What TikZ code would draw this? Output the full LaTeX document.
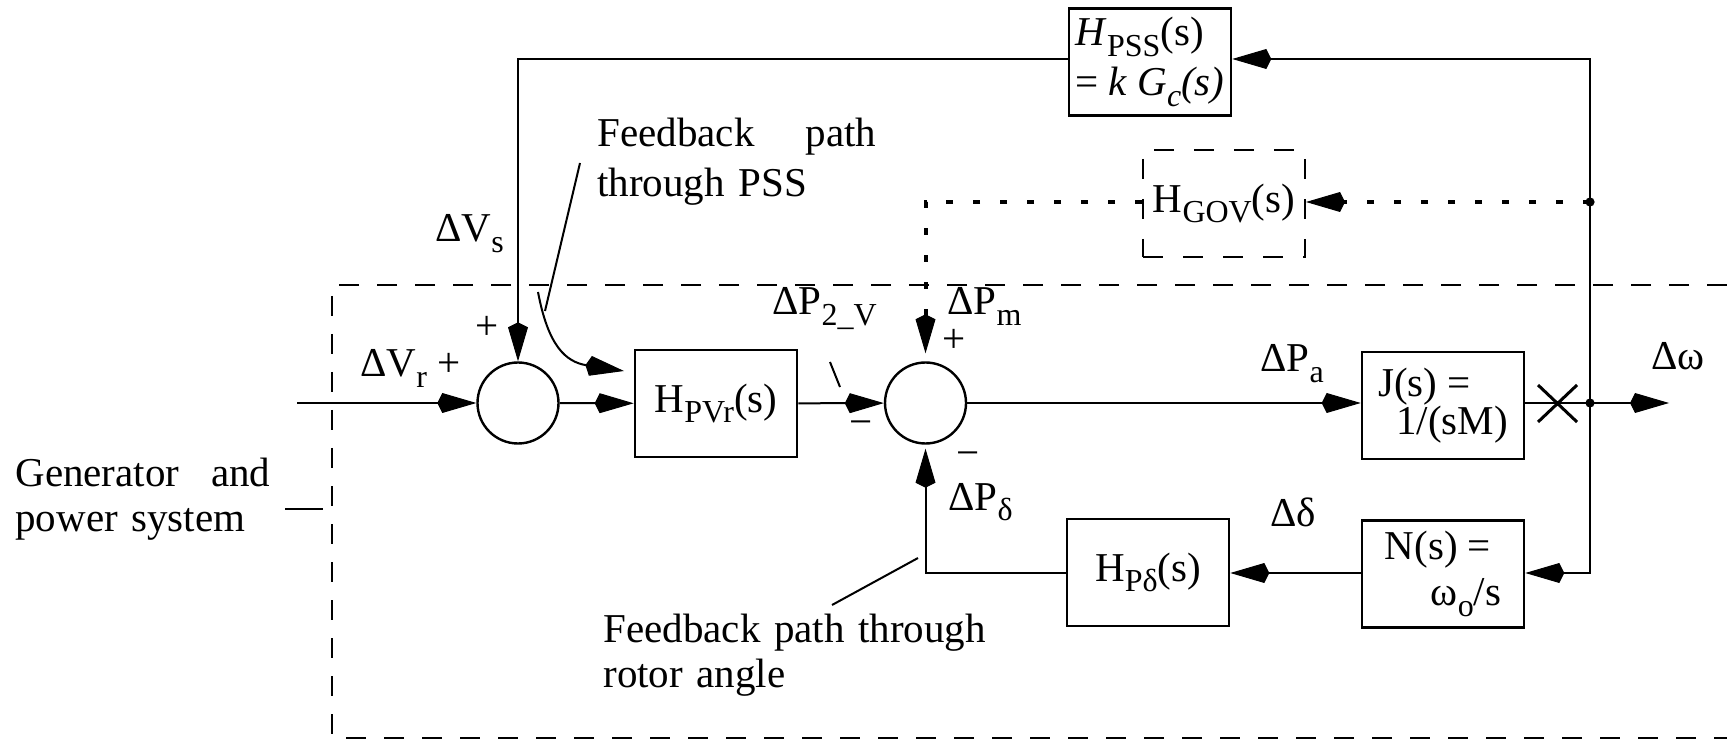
\documentclass[tikz,border=0pt]{standalone}
\usepackage{fontspec}
\setmainfont{Liberation Serif}
\newfontfamily\dfont{Liberation Serif}
\usetikzlibrary{arrows.meta}
\newcommand\sbs[1]{\raisebox{-0.25em}{\fontsize{16}{16}\selectfont #1}}
\begin{document}
\begin{tikzpicture}[x=0.5pt,y=-0.5pt,
  font=\dfont\fontsize{20.5}{22}\selectfont,
  ln/.style={line width=1pt},
  tipk/.tip={Kite[length=19.5pt,width=10pt,inset=2.5pt,line width=0.5pt]},
  arr/.style={ln,-tipk},
  blk/.style={draw,line width=1.3pt,minimum width=81pt,minimum height=53.5pt,inner sep=0pt},
  govbox/.style={blk,line width=1pt,dash pattern=on 10pt off 10pt},
  sumc/.style={draw,circle,line width=1.2pt,minimum size=40.5pt,inner sep=0pt},
  lbl/.style={inner sep=0pt,anchor=base west},
  sgn/.style={inner sep=0pt},
  dotl/.style={line width=2pt,dash pattern=on 3.5pt off 10pt},
  bigdash/.style={line width=1.2pt,dash pattern=on 10pt off 9pt},
]
\useasboundingbox (0,0) rectangle (1727,742);

% outer dashed boundary
\draw[bigdash] (1727,285) -- (332,285) -- (332,738) -- (1727,738);

% blocks
\node[blk,align=left,font=\dfont\fontsize{20.5}{25}\selectfont] (pss) at (1150,62) {\textit{H}\sbs{PSS}(s)\\= \textit{k G\sbs{c}(s)}};
\node[govbox] (gov) at (1224,203.5) {H\sbs{GOV}(s)};
\node[blk] (pvr) at (716,403.5) {H\sbs{PVr}(s)};
\node[blk,align=left,font=\dfont\fontsize{20.5}{19}\selectfont] (jb) at (1443,405.5) {J(s) =\\\hspace*{9pt}1/(sM)};
\node[blk,align=left,font=\dfont\fontsize{20.5}{23}\selectfont] (nb) at (1443,574) {N(s) =\\\hspace*{23pt}ω\sbs{o}/s};
\node[blk] (hpd) at (1148,572.5) {H\sbs{Pδ}(s)};
\node[sumc] (c1) at (518,403) {};
\node[sumc] (c2) at (925.5,403) {};

% coordinates
\coordinate (in) at (297,403);
\coordinate (out) at (1669,403);
\coordinate (tr) at (1590,59);
\coordinate (br) at (1590,573);
\coordinate (dg) at (1590,202);
\coordinate (dm) at (1590,403);
\coordinate (tl) at (518,59);
\coordinate (gl) at (925.5,202);
\coordinate (bl) at (925.5,573);

% main forward path
\draw[arr] (in) -- (c1);
\draw[arr] (c1) -- (pvr);
\draw[arr] (pvr) -- (c2);
\draw[arr] (c2.east) -- (c2.east -| jb.west);
\draw[arr] (c2 -| jb.east) -- (out);

% PSS feedback
\draw[arr] (dm) -- (tr) -- (pss.east |- tr);
\draw[arr] (pss.west |- tr) -- (tl) -- (c1);

% governor (dotted)
\draw[dotl,-tipk] (dg) -- (gov.east |- dg);
\draw[dotl,-tipk,shorten >=4pt] (gov.west |- dg) -- (gl) -- (c2.north);

% rotor angle feedback
\draw[arr] (dm) -- (br) -- (nb.east |- br);
\draw[arr] (nb.west |- br) -- (hpd.east |- br);
\draw[arr,shorten >=2pt] (hpd.west |- br) -- (bl) -- (c2);

% junction dots and cut mark
\fill (dg) circle (2.3pt);
\fill (dm) circle (2.3pt);
\draw[line width=1.5pt] (1538,385) -- (1577,422) (1538,422) -- (1577,385);

% annotation leaders
\coordinate (cvs) at (538,292);
\coordinate (cve) at (624,371);
\draw[arr] (cvs) .. controls (548,345) and (565,362) .. (cve);
\coordinate (lpa) at (580,163);
\coordinate (lpb) at (545,311);
\draw[ln] (lpa) -- (lpb);
\coordinate (lra) at (918,558);
\coordinate (lrb) at (832,605);
\draw[ln] (lra) -- (lrb);
\coordinate (lva) at (830,362);
\coordinate (lvb) at (840,387);
\draw[ln] (lva) -- (lvb);
\coordinate (gda) at (285,509);
\coordinate (gdb) at (323,509);
\draw[ln] (gda) -- (gdb);

% labels
\node[lbl] (lvs) at (435,242) {ΔV\sbs{s}};
\node[lbl] (lvr) at (360,377) {ΔV\sbs{r} +};
\node[sgn] (p1) at (487,328) {+};
\node[lbl] (lp2) at (772,315) {ΔP\sbs{2\_V}};
\node[sgn] (m1) at (861,428) {−};
\node[lbl] (lpm) at (947,315) {ΔP\sbs{m}};
\node[sgn] (p2) at (954,341) {+};
\node[sgn] (m2) at (968,459) {−};
\node[lbl] (lpd) at (948,510) {ΔP\sbs{δ}};
\node[lbl] (lpa2) at (1260,372) {ΔP\sbs{a}};
\node[lbl] (lw) at (1651,370) {Δω};
\node[lbl] (ld) at (1270,526) {Δδ};
\node[lbl,text width=139.5pt,align=left,font=\dfont\fontsize{20.5}{25}\selectfont] (tpss) at (597,147) {Feedback\hfill path\\through PSS};
\node[lbl,text width=200pt,align=left,font=\dfont\fontsize{20.5}{22.5}\selectfont] (trot) at (603,642) {Feedback path through\\rotor angle};
\node[lbl,text width=127.5pt,align=left,font=\dfont\fontsize{20.5}{22.5}\selectfont] (tgen) at (15,487) {Generator\hfill and\\power system};
\end{tikzpicture}
\end{document}
